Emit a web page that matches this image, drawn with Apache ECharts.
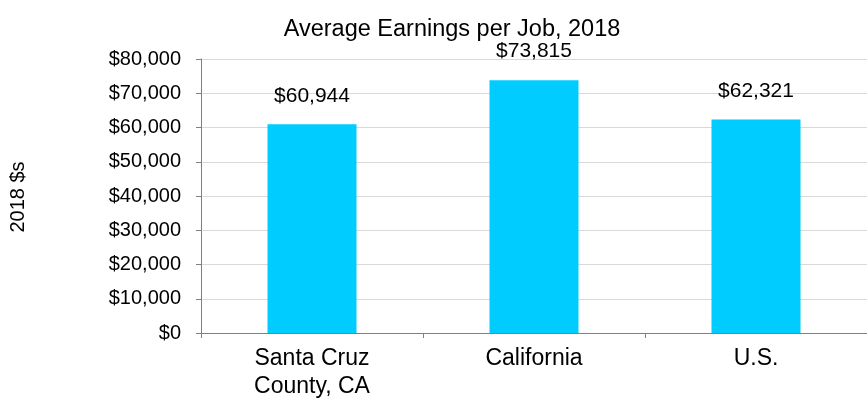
<!DOCTYPE html>
<html><head><meta charset="utf-8">
<script src="https://cdn.jsdelivr.net/npm/echarts@6/dist/echarts.min.js"></script>
<style>html,body{margin:0;padding:0;background:#fff}#c{width:867px;height:401px}</style>
</head><body><div id="c"></div>
<script>
const titleText = "Average Earnings per Job, 2018";
const yAxisTitle = "2018 $s";
const categories = ["Santa Cruz\nCounty, CA", "California", "U.S."];
const values = [60944, 73815, 62321];
const yMin = 0, yMax = 80000, yStep = 10000;

const fmt = v => "$" + Math.round(v).toLocaleString("en-US");
const font = "Liberation Sans, Arial, sans-serif";
const chart = echarts.init(document.getElementById("c"), null, {renderer: "canvas"});
chart.setOption({
  animation: false,
  backgroundColor: "#ffffff",
  title: {text: titleText, left: 447, top: 13, textAlign: "center",
    textStyle: {fontFamily: font, fontSize: 23.5, fontWeight: "normal", color: "#000"}},
  grid: {left: 201, top: 59, width: 672, height: 278, containLabel: false},
  graphic: [{type: "text", x: 18, y: 197, rotation: Math.PI/2,
    style: {text: yAxisTitle, font: "20px " + font, fill: "#000", textAlign: "center", textVerticalAlign: "middle"}}],
  xAxis: {type: "category", data: categories,
    axisLine: {lineStyle: {color: "#808080", width: 1}},
    axisTick: {show: true, length: 5, alignWithLabel: false, lineStyle: {color: "#808080"}},
    axisLabel: {fontFamily: font, fontSize: 23, color: "#000", margin: 12, lineHeight: 28, interval: 0}},
  yAxis: {type: "value", min: yMin, max: yMax, interval: yStep,
    axisLine: {show: true, lineStyle: {color: "#808080", width: 1}},
    axisTick: {show: true, length: 5, lineStyle: {color: "#808080"}},
    splitLine: {lineStyle: {color: "#d9d9d9", width: 1}},
    axisLabel: {fontFamily: font, fontSize: 20, color: "#000", margin: 20, formatter: fmt}},
  series: [{type: "bar", data: values, barWidth: 89,
    itemStyle: {color: "#00ccff"},
    label: {show: true, position: "top", distance: 18, fontFamily: font, fontSize: 21, color: "#000",
      formatter: p => fmt(p.value)}}]
});
</script></body></html>
